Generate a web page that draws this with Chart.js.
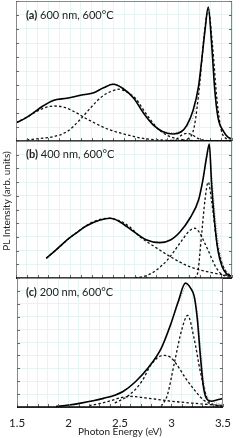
<!DOCTYPE html>
<html>
<head>
<meta charset="utf-8">
<script src="https://cdn.jsdelivr.net/npm/chart.js@4/dist/chart.umd.min.js"></script>
<style>
  body { margin: 0; background: #fff; }
  #wrap { position: relative; width: 240px; height: 438px; overflow: hidden; font-family: Lato, "Open Sans", sans-serif; }
  canvas { position: absolute; left: 0; }
  .lbl { position: absolute; left: 26px; font-size: 11px; line-height: 11px; color: #222; white-space: nowrap; }
  #ytitle { position: absolute; left: 6px; top: 201px; transform: translate(-50%, -50%) rotate(-90deg); font-size: 10px; color: #222; white-space: nowrap; }
</style>
</head>
<body>
<div id="wrap">
  <canvas id="pa" width="240" height="142" style="top:0"></canvas>
  <canvas id="pb" width="240" height="138" style="top:141px"></canvas>
  <canvas id="pc" width="240" height="160" style="top:278px"></canvas>
  <div class="lbl" style="top:9px"><b>(a)</b> 600 nm, 600°C</div>
  <div class="lbl" style="top:148px"><b>(b)</b> 400 nm, 600°C</div>
  <div class="lbl" style="top:286px"><b>(c)</b> 200 nm, 600°C</div>
  <div id="ytitle">PL Intensity (arb. units)</div>
</div>
<script>
// panel (a) 600 nm
const energyA = [1.5, 1.58, 1.66, 1.75, 1.845, 1.97, 2.12, 2.22, 2.31, 2.4, 2.49, 2.59, 2.68, 2.77, 2.86, 2.96, 3.03, 3.08, 3.14, 3.19, 3.22, 3.25, 3.28, 3.31, 3.34, 3.37, 3.42, 3.46, 3.5];
const dataA = [0.13, 0.16, 0.2, 0.25, 0.29, 0.305, 0.33, 0.345, 0.38, 0.405, 0.375, 0.305, 0.2, 0.115, 0.066, 0.05, 0.066, 0.11, 0.22, 0.39, 0.58, 0.79, 0.957, 0.71, 0.37, 0.17, 0.07, 0.03, 0.012];
const fitA = [0.13, 0.165, 0.205, 0.255, 0.29, 0.305, 0.325, 0.345, 0.38, 0.41, 0.38, 0.31, 0.205, 0.12, 0.07, 0.06, 0.075, 0.1, 0.17, 0.37, 0.58, 0.8, 0.955, 0.72, 0.36, 0.16, 0.07, 0.03, 0.012];
const peakA1E = [1.5, 1.6, 1.7, 1.8, 1.86, 1.95, 2.05, 2.15, 2.25, 2.35, 2.45, 2.55, 2.65, 2.75, 2.9, 3.1, 3.3, 3.5];
const peakA1 = [0.13, 0.17, 0.215, 0.245, 0.25, 0.24, 0.205, 0.16, 0.12, 0.085, 0.06, 0.04, 0.022, 0.012, 0.005, 0.002, 0.001, 0];
const peakA2E = [1.6, 1.75, 1.85, 1.97, 2.09, 2.2, 2.3, 2.4, 2.45, 2.5, 2.6, 2.7, 2.8, 2.9, 3.0, 3.1, 3.3, 3.5];
const peakA2 = [0.008, 0.02, 0.032, 0.066, 0.15, 0.245, 0.32, 0.36, 0.37, 0.36, 0.31, 0.2, 0.1, 0.04, 0.015, 0.005, 0.001, 0];
const peakA3E = [2.9, 2.98, 3.03, 3.08, 3.13, 3.18, 3.25, 3.35, 3.5];
const peakA3 = [0, 0.01, 0.04, 0.055, 0.045, 0.02, 0.005, 0, 0];
const peakA4E = [3.0, 3.1, 3.15, 3.2, 3.24, 3.28, 3.32, 3.36, 3.4, 3.45, 3.5];
const peakA4 = [0, 0.02, 0.1, 0.4, 0.74, 0.94, 0.68, 0.3, 0.08, 0.015, 0.003];

// panel (b) 400 nm
const energyB = [1.78, 1.85, 1.97, 2.06, 2.15, 2.28, 2.37, 2.46, 2.59, 2.71, 2.83, 2.93, 3.02, 3.11, 3.19, 3.23, 3.265, 3.29, 3.31, 3.34, 3.37, 3.41, 3.45, 3.5];
const dataB = [0.144, 0.19, 0.277, 0.33, 0.38, 0.423, 0.436, 0.411, 0.338, 0.277, 0.258, 0.277, 0.338, 0.436, 0.569, 0.715, 0.885, 0.978, 0.7, 0.4, 0.2, 0.08, 0.03, 0.012];
const fitB = [0.144, 0.19, 0.275, 0.33, 0.38, 0.423, 0.436, 0.413, 0.34, 0.28, 0.262, 0.28, 0.34, 0.43, 0.56, 0.7, 0.87, 0.96, 0.78, 0.5, 0.28, 0.12, 0.05, 0.025];
const peakB1E = [1.78, 1.9, 2.0, 2.1, 2.2, 2.3, 2.37, 2.45, 2.55, 2.65, 2.8, 2.95, 3.1, 3.27, 3.45, 3.5];
const peakB1 = [0.144, 0.225, 0.295, 0.355, 0.405, 0.432, 0.436, 0.42, 0.375, 0.3, 0.22, 0.146, 0.085, 0.046, 0.02, 0.015];
const peakB2E = [2.6, 2.7, 2.8, 2.9, 2.95, 3.05, 3.1, 3.157, 3.2, 3.234, 3.28, 3.31, 3.35, 3.4, 3.46, 3.5];
const peakB2 = [0.003, 0.015, 0.058, 0.13, 0.18, 0.29, 0.34, 0.363, 0.33, 0.277, 0.2, 0.146, 0.08, 0.03, 0.01, 0.005];
const peakB3E = [3.15, 3.18, 3.22, 3.25, 3.28, 3.31, 3.36, 3.42, 3.48, 3.5];
const peakB3 = [0, 0.03, 0.33, 0.57, 0.7, 0.57, 0.26, 0.083, 0.02, 0.01];

// panel (c) 200 nm
const energyC = [1.88, 2.0, 2.12, 2.24, 2.34, 2.45, 2.53, 2.65, 2.77, 2.9, 2.99, 3.065, 3.135, 3.16, 3.19, 3.22, 3.25, 3.28, 3.31, 3.34, 3.39, 3.44, 3.5];
const dataC = [0.005, 0.015, 0.03, 0.048, 0.067, 0.092, 0.12, 0.196, 0.3, 0.455, 0.636, 0.816, 0.96, 0.95, 0.915, 0.86, 0.69, 0.4, 0.16, 0.065, 0.045, 0.055, 0.065];
const fitC = [0.004, 0.014, 0.03, 0.05, 0.07, 0.095, 0.125, 0.2, 0.3, 0.45, 0.62, 0.8, 0.93, 0.95, 0.92, 0.87, 0.74, 0.48, 0.22, 0.1, 0.05, 0.03, 0.02];
const peakC1E = [2.2, 2.35, 2.5, 2.6, 2.7, 2.85, 3.0, 3.2, 3.35, 3.5];
const peakC1 = [0.01, 0.035, 0.07, 0.082, 0.075, 0.06, 0.045, 0.03, 0.02, 0.012];
const peakC2E = [2.45, 2.59, 2.71, 2.8, 2.88, 2.93, 2.99, 3.05, 3.14, 3.23, 3.31, 3.4, 3.5];
const peakC2 = [0.03, 0.093, 0.196, 0.326, 0.39, 0.4, 0.385, 0.33, 0.22, 0.125, 0.055, 0.02, 0.008];
const peakC3E = [2.9, 2.96, 3.03, 3.1, 3.157, 3.22, 3.28, 3.34, 3.4, 3.5];
const peakC3 = [0.005, 0.093, 0.35, 0.6, 0.71, 0.53, 0.274, 0.08, 0.02, 0.003];

const xTicks = [1.5, 2, 2.5, 3, 3.5];

const gridColor = "#e6f4f4";
const textColor = "#222";
const fontFam = "Lato, 'Open Sans', sans-serif";

function pts(xs, ys) {
  return xs.map((x, i) => ({ x: x, y: ys[i] }));
}

function measured(xs, ys) {
  return { data: pts(xs, ys), borderColor: "#000", borderWidth: 1.6, pointRadius: 0, cubicInterpolationMode: "monotone" };
}
function component(xs, ys) {
  return { data: pts(xs, ys), borderColor: "#111", borderWidth: 1.3, borderDash: [2.5, 2.2], pointRadius: 0, cubicInterpolationMode: "monotone" };
}
function fitted(xs, ys) {
  return { data: pts(xs, ys), borderColor: "#999", borderWidth: 1, borderDash: [1, 1.5], pointRadius: 0, cubicInterpolationMode: "monotone" };
}

// frame, separator line and small inward ticks
const frame = {
  id: "frame",
  afterDraw(chart) {
    const { ctx, chartArea: a, scales } = chart;
    ctx.save();
    ctx.strokeStyle = "#888";
    ctx.lineWidth = 1;
    ctx.strokeRect(a.left + 0.5, a.top + 0.5, a.right - a.left - 1, a.bottom - a.top);
    ctx.strokeStyle = "#666";
    ctx.beginPath();
    scales.y.ticks.forEach(t => {
      const y = Math.round(scales.y.getPixelForValue(t.value)) + 0.5;
      ctx.moveTo(a.left, y); ctx.lineTo(a.left + 3, y);
      ctx.moveTo(a.right, y); ctx.lineTo(a.right - 3, y);
    });
    scales.x.ticks.forEach(t => {
      const x = Math.round(scales.x.getPixelForValue(t.value)) + 0.5;
      ctx.moveTo(x, a.bottom); ctx.lineTo(x, a.bottom - 3);
    });
    ctx.stroke();
    ctx.strokeStyle = "#000";
    ctx.lineWidth = 1.5;
    ctx.beginPath();
    ctx.moveTo(a.left, a.bottom);
    ctx.lineTo(a.right, a.bottom);
    ctx.stroke();
    ctx.restore();
  }
};

function panel(id, sets, padTop, bottomAxis) {
  return new Chart(document.getElementById(id), {
    type: "line",
    data: { datasets: sets },
    options: {
      responsive: false,
      animation: false,
      layout: { padding: { top: padTop, right: 8, left: 0, bottom: 0 } },
      plugins: { legend: { display: false }, tooltip: { enabled: false } },
      scales: {
        x: {
          type: "linear",
          min: 1.5,
          max: 3.5,
          afterFit: s => { s.height = bottomAxis ? 31 : 1; },
          border: { display: false },
          grid: { color: gridColor, drawTicks: false },
          ticks: {
            display: bottomAxis,
            stepSize: 0.1,
            autoSkip: false,
            maxRotation: 0,
            padding: 9,
            color: textColor,
            font: { family: fontFam, size: 11.5 },
            callback: v => {
              const hit = xTicks.find(t => Math.abs(t - v) < 1e-6);
              return hit === undefined ? "" : String(hit);
            }
          },
          title: {
            display: bottomAxis,
            text: "Photon Energy (eV)",
            color: textColor,
            font: { family: fontFam, size: 10 },
            padding: { top: 0, bottom: 0 }
          }
        },
        y: {
          min: 0,
          max: 1,
          afterFit: s => { s.width = 16; },
          border: { display: false },
          grid: { color: gridColor, drawTicks: false },
          ticks: { display: false, stepSize: 0.1 }
        }
      }
    },
    plugins: [frame]
  });
}

panel("pa", [
  measured(energyA, dataA),
  fitted(energyA, fitA),
  component(peakA1E, peakA1),
  component(peakA2E, peakA2),
  component(peakA3E, peakA3),
  component(peakA4E, peakA4)
], 1, false);

panel("pb", [
  measured(energyB, dataB),
  fitted(energyB, fitB),
  component(peakB1E, peakB1),
  component(peakB2E, peakB2),
  component(peakB3E, peakB3)
], 0, false);

panel("pc", [
  measured(energyC, dataC),
  fitted(energyC, fitC),
  component(peakC1E, peakC1),
  component(peakC2E, peakC2),
  component(peakC3E, peakC3)
], 0, true);
</script>
</body>
</html>
